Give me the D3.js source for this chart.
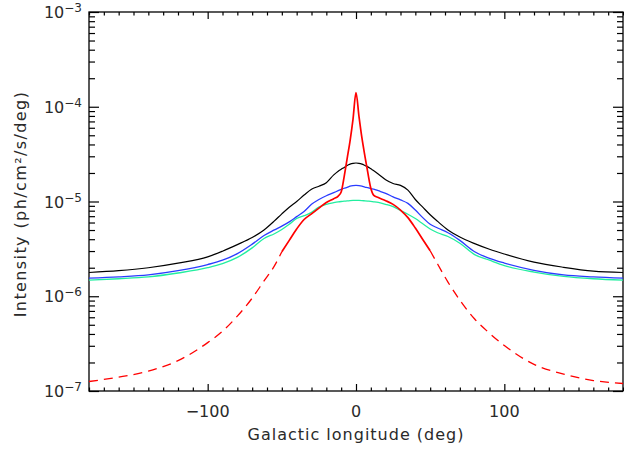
<!DOCTYPE html>
<html>
<head>
<meta charset="utf-8">
<script src="https://cdn.jsdelivr.net/npm/d3@7"></script>
<style>
  body { margin: 0; background: #fff; }
  text { font-family: "DejaVu Sans", sans-serif; fill: #2a2a2a; }
</style>
</head>
<body>
<div id="chart"></div>
<script>
// galactic longitude grid (deg)
const lon = [-180,-160,-140,-120,-100,-90,-80,-70,-62,-55,-50,-45,-40,-35,-30,-25,-20,-15,-12,-10,-8,-6,-4,-2,0,
             2,4,6,8,10,12,15,20,25,30,35,40,45,50,55,62,70,80,90,100,120,140,160,180];

// intensities (ph/cm2/s/deg)
const black = [1.78e-6,1.86e-6,2.00e-6,2.24e-6,2.60e-6,2.99e-6,3.51e-6,4.17e-6,5.01e-6,6.24e-6,7.41e-6,8.71e-6,1.00e-5,1.17e-5,1.35e-5,1.45e-5,1.58e-5,1.91e-5,2.09e-5,2.19e-5,2.29e-5,2.40e-5,2.48e-5,2.53e-5,2.55e-5,
               2.53e-5,2.48e-5,2.40e-5,2.32e-5,2.21e-5,2.11e-5,1.95e-5,1.70e-5,1.55e-5,1.48e-5,1.32e-5,1.05e-5,8.71e-6,7.24e-6,6.17e-6,5.01e-6,4.22e-6,3.59e-6,3.13e-6,2.79e-6,2.29e-6,2.02e-6,1.84e-6,1.78e-6];
const blue = [1.55e-6,1.60e-6,1.68e-6,1.86e-6,2.16e-6,2.40e-6,2.82e-6,3.55e-6,4.37e-6,5.01e-6,5.50e-6,6.10e-6,6.92e-6,7.85e-6,9.33e-6,1.05e-5,1.15e-5,1.24e-5,1.30e-5,1.34e-5,1.38e-5,1.41e-5,1.45e-5,1.47e-5,1.48e-5,
              1.47e-5,1.45e-5,1.42e-5,1.40e-5,1.37e-5,1.35e-5,1.30e-5,1.22e-5,1.12e-5,1.04e-5,9.55e-6,8.13e-6,6.76e-6,5.75e-6,5.25e-6,4.68e-6,3.89e-6,2.95e-6,2.51e-6,2.24e-6,1.88e-6,1.68e-6,1.60e-6,1.55e-6];
const cyan = [1.48e-6,1.53e-6,1.60e-6,1.76e-6,2.00e-6,2.21e-6,2.57e-6,3.24e-6,4.07e-6,4.57e-6,5.07e-6,5.75e-6,6.61e-6,7.08e-6,7.67e-6,8.71e-6,9.33e-6,9.72e-6,9.91e-6,1.00e-5,1.007e-5,1.016e-5,1.023e-5,1.028e-5,1.03e-5,
              1.028e-5,1.023e-5,1.016e-5,1.009e-5,1.002e-5,9.93e-6,9.77e-6,9.33e-6,8.81e-6,8.04e-6,7.33e-6,6.61e-6,5.82e-6,5.13e-6,4.68e-6,4.27e-6,3.63e-6,2.75e-6,2.40e-6,2.11e-6,1.80e-6,1.62e-6,1.53e-6,1.48e-6];
const red = [1.26e-7,1.40e-7,1.62e-7,2.09e-7,3.24e-7,4.27e-7,6.17e-7,9.55e-7,1.45e-6,2.09e-6,2.95e-6,3.89e-6,5.13e-6,6.46e-6,7.41e-6,8.51e-6,9.77e-6,1.07e-5,1.14e-5,1.26e-5,1.82e-5,2.82e-5,4.37e-5,7.41e-5,1.41e-4,
             7.94e-5,4.68e-5,3.02e-5,2.00e-5,1.38e-5,1.16e-5,1.10e-5,1.02e-5,9.33e-6,8.13e-6,6.76e-6,5.25e-6,3.98e-6,3.02e-6,2.19e-6,1.41e-6,9.12e-7,5.75e-7,4.07e-7,3.02e-7,1.91e-7,1.51e-7,1.29e-7,1.20e-7];

// red is solid only inside |l| <= 50
const redSolidLimit = 50;

const xTicks = [-100, 0, 100];
const xTickLabels = ["\u2212100", "0", "100"];
const yDecades = [1e-7, 1e-6, 1e-5, 1e-4, 1e-3];
const yExponents = ["\u22127", "\u22126", "\u22125", "\u22124", "\u22123"];

const W = 624, H = 455;
const margin = { top: 12, right: 1, bottom: 64, left: 89 },
      width = W - margin.left - margin.right,
      height = H - margin.top - margin.bottom;

const svg = d3.select("#chart").append("svg")
              .attr("width", W).attr("height", H)
              .append("g")
              .attr("transform", `translate(${margin.left},${margin.top})`);

const x = d3.scaleLinear().domain([-180, 180]).range([0, width]);
const y = d3.scaleLog().domain([1e-7, 1e-3]).range([height, 0]);

// minor tick positions
const xMinor = d3.range(-180, 181, 10).filter(d => !xTicks.includes(d));
const yMinor = [];
yDecades.slice(0, -1).forEach(p => { for (let k = 2; k <= 9; k++) yMinor.push(p * k); });

function tickAxis(axis, vals, size, transform) {
  const g = svg.append("g")
     .attr("transform", transform)
     .call(axis.tickValues(vals).tickSize(-size).tickFormat(""));
  g.select(".domain").remove();
  g.selectAll("line").attr("stroke", "#000").attr("stroke-width", 1.2);
  return g;
}

// ticks pointing inward on all four sides
tickAxis(d3.axisBottom(x), xTicks, 7, `translate(0,${height})`);
tickAxis(d3.axisBottom(x), xMinor, 3.5, `translate(0,${height})`);
tickAxis(d3.axisTop(x), xTicks, 7, "translate(0,0)");
tickAxis(d3.axisTop(x), xMinor, 3.5, "translate(0,0)");
tickAxis(d3.axisLeft(y), yDecades, 10, "translate(0,0)");
tickAxis(d3.axisLeft(y), yMinor, 6, "translate(0,0)");
tickAxis(d3.axisRight(y), yDecades, 10, `translate(${width},0)`);
tickAxis(d3.axisRight(y), yMinor, 6, `translate(${width},0)`);

// frame
svg.append("rect")
   .attr("width", width).attr("height", height)
   .attr("fill", "none").attr("stroke", "#000").attr("stroke-width", 1.3);

// x tick labels
svg.selectAll(".xlab").data(xTicks).enter().append("text")
   .attr("x", d => x(d)).attr("y", height + 26)
   .attr("text-anchor", "middle").style("font-size", "16px")
   .text((d, i) => xTickLabels[i]);

// y tick labels: 10 with superscript exponent
yDecades.forEach((d, i) => {
  const t = svg.append("text")
     .attr("x", -7).attr("y", y(d) + 6)
     .attr("text-anchor", "end").style("font-size", "16px");
  t.append("tspan").text("10");
  t.append("tspan").attr("dy", -6).style("font-size", "12px").text(yExponents[i]);
});

// axis titles
svg.append("text")
   .attr("x", width / 2).attr("y", height + 49)
   .attr("text-anchor", "middle").style("font-size", "16px")
   .style("letter-spacing", "1px")
   .text("Galactic longitude (deg)");

svg.append("text")
   .attr("transform", "rotate(-90)")
   .attr("x", -192).attr("y", -63)
   .attr("text-anchor", "middle").style("font-size", "16px")
   .style("letter-spacing", "1.4px")
   .text("Intensity (ph/cm\u00b2/s/deg)");

// curves
svg.append("clipPath").attr("id", "plotclip")
   .append("rect").attr("width", width).attr("height", height);

const line = d3.line()
   .x(d => x(d[0]))
   .y(d => y(d[1]))
   .curve(d3.curveMonotoneX);

const pairs = vals => lon.map((l, i) => [l, vals[i]]);

const plot = svg.append("g").attr("clip-path", "url(#plotclip)");

plot.append("path").datum(pairs(black)).attr("d", line)
    .attr("fill", "none").attr("stroke", "#000").attr("stroke-width", 1.2);
plot.append("path").datum(pairs(cyan)).attr("d", line)
    .attr("fill", "none").attr("stroke", "#22ee9f").attr("stroke-width", 1.3);
plot.append("path").datum(pairs(blue)).attr("d", line)
    .attr("fill", "none").attr("stroke", "#2a3cff").attr("stroke-width", 1.3);

const redPts = pairs(red);
plot.append("path").datum(redPts.filter(d => d[0] <= -redSolidLimit)).attr("d", line)
    .attr("fill", "none").attr("stroke", "#ff0000").attr("stroke-width", 1.3)
    .attr("stroke-dasharray", "9,6");
plot.append("path").datum(redPts.filter(d => d[0] >= redSolidLimit)).attr("d", line)
    .attr("fill", "none").attr("stroke", "#ff0000").attr("stroke-width", 1.3)
    .attr("stroke-dasharray", "9,6");
plot.append("path").datum(redPts.filter(d => Math.abs(d[0]) <= redSolidLimit)).attr("d", line)
    .attr("fill", "none").attr("stroke", "#ff0000").attr("stroke-width", 1.7);
</script>
</body>
</html>
